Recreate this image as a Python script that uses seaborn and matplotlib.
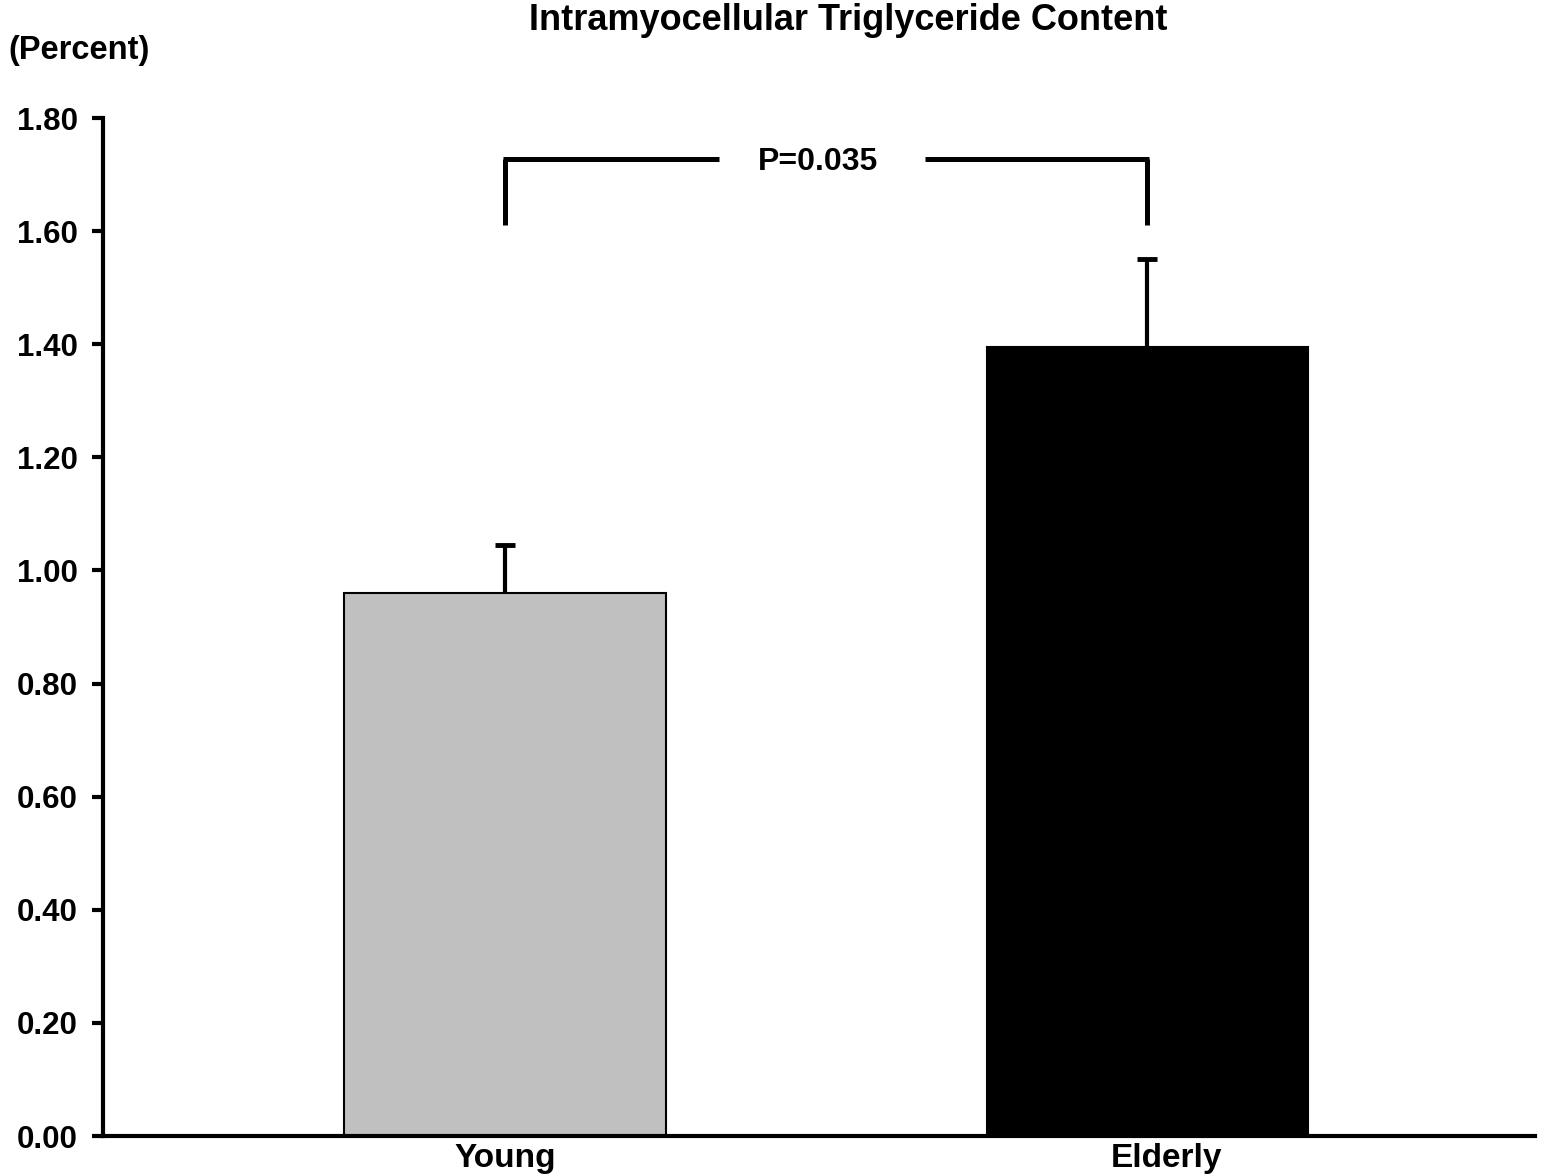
import matplotlib
matplotlib.use("Agg")
import matplotlib.pyplot as plt
import seaborn as sns
import pandas as pd

categories = ["Young", "Elderly"]
values = [0.96, 1.395]
errors = [0.085, 0.155]
colors = ["#C0C0C0", "#000000"]
yticks = [0.0, 0.2, 0.4, 0.6, 0.8, 1.0, 1.2, 1.4, 1.6, 1.8]
title = "Intramyocellular Triglyceride Content"
ylabel = "(Percent)"
ptext = "P=0.035"
bracket_y = [1.61, 1.728]

sns.set_theme(style="white")
plt.rcParams["font.family"] = ["Liberation Sans", "DejaVu Sans"]
plt.rcParams["font.weight"] = "bold"

fig = plt.figure(figsize=(15.51, 11.75), dpi=100)
ax = fig.add_axes([103/1551, 1 - 1136/1175, (1535-103)/1551, (1136-118)/1175])

df = pd.DataFrame({"group": categories, "value": values})
sns.barplot(data=df, x="group", y="value", hue="group", palette=colors,
            width=0.5, errorbar=None, legend=False, ax=ax,
            edgecolor="black", linewidth=1.5)

eb = ax.errorbar([0, 1], values, yerr=[[0, 0], errors], fmt="none",
                 ecolor="black", elinewidth=3, capsize=7.5, capthick=3.5, zorder=1)
# one-sided error bars: hide the lower caps
caplines = eb[1]
if len(caplines) >= 1:
    caplines[0].set_visible(False)

ax.set_xlim(-0.626, 1.604)
ax.set_ylim(0, 1.8)
ax.set_yticks(yticks)
ax.set_yticklabels([f"{v:.2f}" for v in yticks], fontsize=22.5, fontweight="bold")
# the reference places the "Elderly" label slightly right of the bar centre
ax.set_xticks([0, 1.03])
ax.set_xticklabels(categories, fontsize=24, fontweight="bold")
ax.set_xlabel("")
ax.set_ylabel("")
ax.tick_params(axis="y", direction="out", length=8, width=3, pad=10, colors="black", left=True)
ax.tick_params(axis="x", length=0, pad=5, colors="black")

for s in ["top", "right"]:
    ax.spines[s].set_visible(False)
for s in ["left", "bottom"]:
    ax.spines[s].set_linewidth(3)
    ax.spines[s].set_color("black")

# significance bracket
lw = 3.6
ax.plot([0, 0], bracket_y, color="black", lw=lw, solid_capstyle="butt")
ax.plot([1, 1], bracket_y, color="black", lw=lw, solid_capstyle="butt")
ax.plot([-0.003, 0.333], [bracket_y[1]] * 2, color="black", lw=lw, solid_capstyle="butt")
ax.plot([0.654, 1.003], [bracket_y[1]] * 2, color="black", lw=lw, solid_capstyle="butt")
ax.text(0.487, bracket_y[1] - 0.006, ptext, ha="center", va="center",
        fontsize=23, fontweight="bold", color="black")

fig.text(848/1551, 1 - 20/1175, title, ha="center", va="center",
         fontsize=26, fontweight="bold", color="black")
fig.text(8/1551, 1 - 51/1175, ylabel, ha="left", va="center",
         fontsize=23.5, fontweight="bold", color="black")

fig.savefig("out.png", dpi=100, facecolor="white")
